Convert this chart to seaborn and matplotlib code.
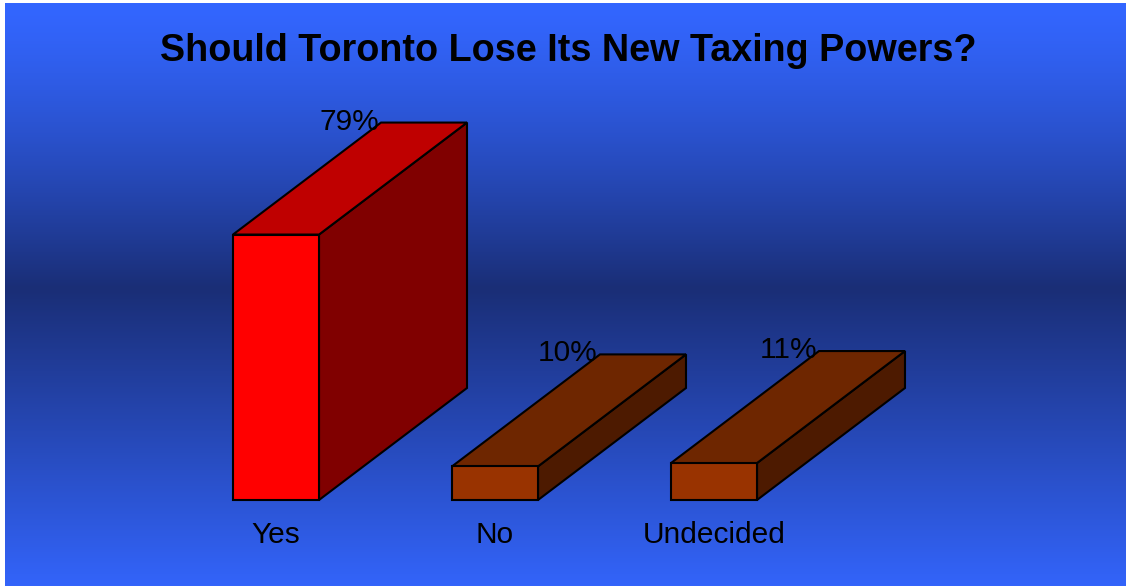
import numpy as np
import pandas as pd
import matplotlib
matplotlib.use("Agg")
import matplotlib.pyplot as plt
from matplotlib.patches import Polygon
import seaborn as sns

# Poll results
categories = ["Yes", "No", "Undecided"]
shares = [79, 10, 11]
value_labels = ["79%", "10%", "11%"]
title_text = "Should Toronto Lose Its New Taxing Powers?"

# Face colours for the extruded bars: front, top, side
front_colors = ["#FF0000", "#993300", "#993300"]
top_colors = ["#BF0000", "#6E2600", "#6E2600"]
side_colors = ["#800000", "#4D1A00", "#4D1A00"]

sns.set_theme(style="white")
plt.rcParams["font.family"] = ["Liberation Sans", "DejaVu Sans"]

W, H = 1126, 586
fig = plt.figure(figsize=(W / 100, H / 100), dpi=100)
fig.patch.set_facecolor("white")

# Vertical blue gradient behind the chart (light at top/bottom, navy in the middle)
bg = fig.add_axes([5 / W, 0, 1 - 5 / W, 1 - 3 / H])
bg.set_axis_off()
rows = 583
t = np.linspace(0, 1, rows)
light_top = np.array([51, 102, 255]) / 255
dark_mid = np.array([26, 46, 118]) / 255
light_bot = np.array([51, 100, 250]) / 255
mid = 285 / rows
grad = np.zeros((rows, 1, 3))
for i, v in enumerate(t):
    if v < mid:
        f = v / mid
        f = f ** 1.3
        grad[i, 0] = light_top * (1 - f) + dark_mid * f
    else:
        f = (v - mid) / (1 - mid)
        grad[i, 0] = dark_mid * (1 - f) + light_bot * f
bg.imshow(grad, aspect="auto", extent=[0, 1, 0, 1])

# Main axes: full figure, data units are category index and percent
ax = fig.add_axes([0, 0, 1, 1])
ax.patch.set_alpha(0)
px_per_unit = 219.0
px_per_pct = 3.36
x0_px, y0_px = 276.0, 500.0

df = pd.DataFrame({"category": categories, "share": shares})
sns.barplot(data=df, x="category", y="share", hue="category",
            palette=front_colors, width=86 / px_per_unit, edgecolor="black",
            linewidth=1.5, legend=False, ax=ax, zorder=3, saturation=1)
ax.set_xlim(-x0_px / px_per_unit, (W - x0_px) / px_per_unit)
ax.set_ylim(-(H - y0_px) / px_per_pct, y0_px / px_per_pct)
ax.set_axis_off()

# Depth of the extrusion in data units
dx = 148 / px_per_unit
dy = 112 / px_per_pct

for i, bar in enumerate(ax.patches):
    bx0 = bar.get_x()
    bx1 = bx0 + bar.get_width()
    h = bar.get_height()
    side = Polygon([(bx1, 0), (bx1 + dx, dy), (bx1 + dx, h + dy), (bx1, h)],
                   closed=True, facecolor=side_colors[i], edgecolor="black",
                   linewidth=1.5, joinstyle="miter", zorder=2)
    top = Polygon([(bx0, h), (bx0 + dx, h + dy), (bx1 + dx, h + dy), (bx1, h)],
                  closed=True, facecolor=top_colors[i], edgecolor="black",
                  linewidth=1.5, joinstyle="miter", zorder=2)
    ax.add_patch(side)
    ax.add_patch(top)
    ax.text(bx0 + dx - 2 / px_per_unit, h + dy + 1 / px_per_pct, value_labels[i],
            ha="right", va="center", fontsize=21.5, color="black", zorder=4)
    ax.text(bx0 + bar.get_width() / 2, -35 / px_per_pct, categories[i],
            ha="center", va="center", fontsize=21.5, color="black", zorder=4)

fig.text(568 / W, 1 - 51 / H, title_text, ha="center", va="center",
         fontsize=27.2, fontweight="bold", color="black")

fig.savefig("out.png", dpi=100, facecolor=fig.get_facecolor())
